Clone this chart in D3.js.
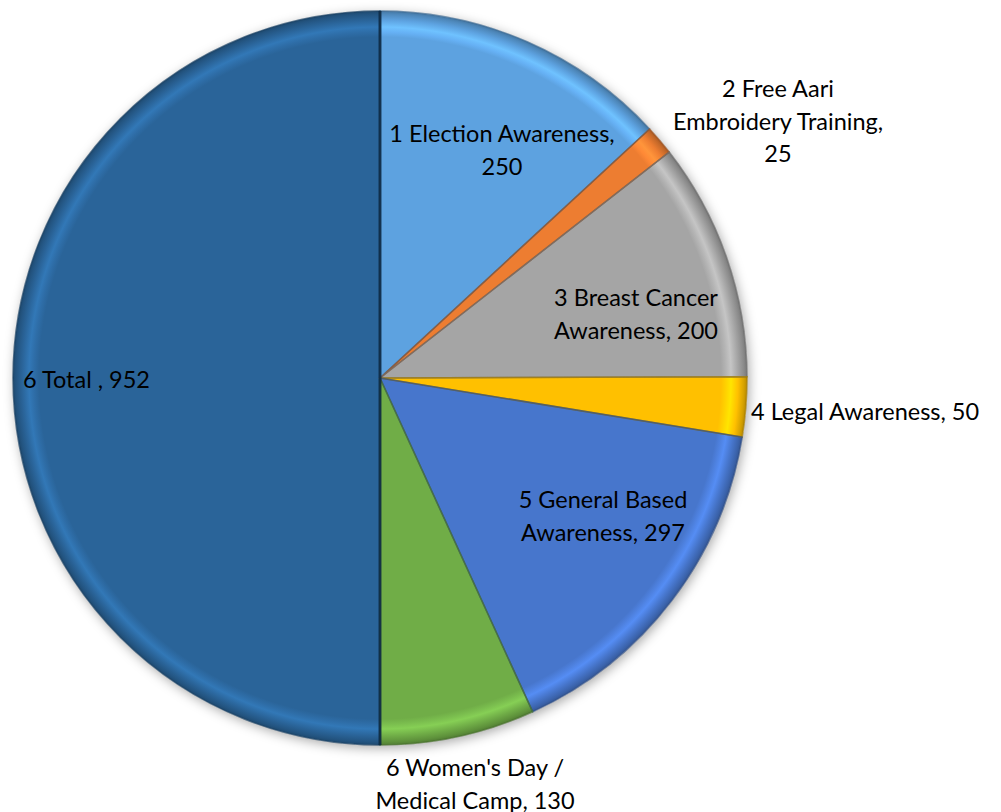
<!DOCTYPE html>
<html><head><meta charset="utf-8">
<script src="https://cdn.jsdelivr.net/npm/d3@7"></script>
<style>body{margin:0;background:#fff}svg{display:block}</style>
</head><body>
<svg id="c" width="1001" height="812"></svg>
<script>
const categories = ["1 Election Awareness","2 Free Aari Embroidery Training","3 Breast Cancer Awareness","4 Legal Awareness","5 General Based Awareness","6 Women's Day / Medical Camp","6 Total "];
const values = [250, 25, 200, 50, 297, 130, 952];
const colors = ["#5DA2E0","#ED7D31","#A5A5A5","#FFC000","#4776CC","#70AD47","#2A6499"];
const labelLines = [
  ["1 Election Awareness,","250"],
  ["2 Free Aari","Embroidery Training,","25"],
  ["3 Breast Cancer","Awareness, 200"],
  ["4 Legal Awareness, 50"],
  ["5 General Based","Awareness, 297"],
  ["6 Women's Day /","Medical Camp, 130"],
  ["6 Total , 952"]
];
const labelPos = [[502,142,"middle"],[778,97,"middle"],[636,306,"middle"],[751,420,"start"],[603,508,"middle"],[475,776,"middle"],[23,388,"start"]];

const svg = d3.select("#c");
const cx = 380, cy = 378, R = 367;
const defs = svg.append("defs");
const f = defs.append("filter").attr("id","sh").attr("x","-20%").attr("y","-20%").attr("width","140%").attr("height","140%");
f.append("feDropShadow").attr("dx",2).attr("dy",3).attr("stdDeviation",6).attr("flood-color","#000").attr("flood-opacity",0.35);

colors.forEach((c,i)=>{
  const base = d3.color(c);
  const g = defs.append("radialGradient").attr("id","g"+i).attr("gradientUnits","userSpaceOnUse")
    .attr("cx",0).attr("cy",0).attr("r",R);
  const st = [[0,base],[(R-26)/R,base],[(R-21)/R,base.brighter(0.25)],[(R-16)/R,base.brighter(0.5)],[(R-9)/R,base],[(R-3)/R,base.darker(0.5)],[1,base.darker(0.9)]];
  st.forEach(s=>g.append("stop").attr("offset",s[0]).attr("stop-color",s[1].formatHex()));
});

const pie = d3.pie().sort(null).value(d=>d);
const arcs = pie(values);
const arc = d3.arc().innerRadius(0).outerRadius(R);

const g = svg.append("g").attr("transform",`translate(${cx},${cy})`);
g.append("circle").attr("r",R).attr("fill","#fff").attr("filter","url(#sh)");
g.selectAll("path.s").data(arcs).join("path").attr("class","s")
  .attr("d",arc).attr("fill",(d,i)=>`url(#g${i})`);
g.selectAll("path.e").data(arcs).join("path").attr("class","e")
  .attr("d",arc).attr("fill","none").attr("stroke",(d,i)=>d3.color(colors[i]).darker(1.2).formatHex())
  .attr("stroke-width",1.5).attr("stroke-opacity",0.7);
g.append("line").attr("x1",0).attr("y1",-R).attr("x2",0).attr("y2",R).attr("stroke","#0b2740").attr("stroke-width",3).attr("stroke-opacity",0.8);

const t = svg.append("g").attr("font-family","Lato, 'Open Sans', sans-serif").attr("font-size",23.5).attr("fill","#000");
labelLines.forEach((lines,i)=>{
  const [x,y,a] = labelPos[i];
  const tx = t.append("text").attr("text-anchor",a);
  lines.forEach((l,j)=>tx.append("tspan").attr("x",x).attr("y",y+j*32.5).text(l));
});
</script>
</body></html>
